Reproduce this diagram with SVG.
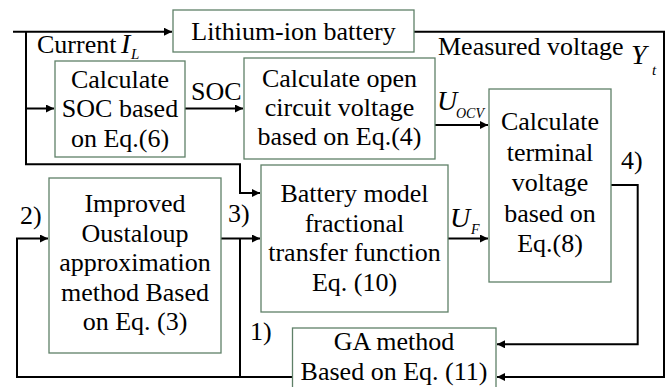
<svg xmlns="http://www.w3.org/2000/svg" width="665" height="387" viewBox="0 0 665 387">
<style>
.box{fill:#fff;stroke:#5f8068;stroke-width:1.3}
text{font-family:'Liberation Serif','DejaVu Serif',serif;fill:#000}
.t{font-size:26px;text-anchor:middle}
.l{font-size:26px}
.i{font-style:italic}
.big{font-size:28px}
.sub{font-size:15px}
.w{fill:none;stroke:#000;stroke-width:2}
</style>
<defs>
<marker id="ah" viewBox="0 0 10 10" refX="10" refY="5" markerWidth="4" markerHeight="4" orient="auto" markerUnits="strokeWidth">
<path d="M0,0 L10,5 L0,10 Z" fill="#000"/>
</marker>
</defs>
<rect width="665" height="387" fill="#fff"/>
<g id="connectors">
<path class="w" d="M13,31.7 H172" marker-end="url(#ah)"/>
<path class="w" d="M26,31.7 V164.3 H240 V193 H260" marker-end="url(#ah)"/>
<path class="w" d="M26,108.5 H54" marker-end="url(#ah)"/>
<path class="w" d="M185,108.5 H243" marker-end="url(#ah)"/>
<path class="w" d="M414,31.7 H664 V377 H497" marker-end="url(#ah)"/>
<path class="w" d="M435,125 H488" marker-end="url(#ah)"/>
<path class="w" d="M611,185 H637.7 V344.3 H497" marker-end="url(#ah)"/>
<path class="w" d="M448,238.5 H488" marker-end="url(#ah)"/>
<path class="w" d="M221,238.5 H260" marker-end="url(#ah)"/>
<path class="w" d="M292,377 H17 V238.5 H48" marker-end="url(#ah)"/>
<path class="w" d="M240,238.5 V377"/>
</g>
<g id="battery">
<rect class="box" x="173" y="10" width="241" height="42"/>
<text class="t" x="293.5" y="40">Lithium-ion battery</text>
</g>
<g id="soc">
<rect class="box" x="55" y="61" width="130" height="96"/>
<text class="t" x="120" y="88">Calculate</text>
<text class="t" x="120" y="117">SOC based</text>
<text class="t" x="120" y="146.5">on Eq.(6)</text>
</g>
<g id="ocv">
<rect class="box" x="244" y="58" width="191" height="101"/>
<text class="t" x="339.5" y="87">Calculate open</text>
<text class="t" x="339.5" y="116">circuit voltage</text>
<text class="t" x="339.5" y="145">based on Eq.(4)</text>
</g>
<g id="terminal">
<rect class="box" x="489" y="89" width="122" height="193"/>
<text class="t" x="550" y="130">Calculate</text>
<text class="t" x="550" y="160.5">terminal</text>
<text class="t" x="550" y="191">voltage</text>
<text class="t" x="550" y="221.5">based on</text>
<text class="t" x="550" y="252">Eq.(8)</text>
</g>
<g id="model">
<rect class="box" x="261" y="165" width="187" height="147"/>
<text class="t" x="354.5" y="202">Battery model</text>
<text class="t" x="354.5" y="231.5">fractional</text>
<text class="t" x="354.5" y="261">transfer function</text>
<text class="t" x="354.5" y="290.5">Eq. (10)</text>
</g>
<g id="oustaloup">
<rect class="box" x="49" y="178" width="172" height="175"/>
<text class="t" x="135" y="212">Improved</text>
<text class="t" x="135" y="241.5">Oustaloup</text>
<text class="t" x="135" y="271">approximation</text>
<text class="t" x="135" y="300.5">method Based</text>
<text class="t" x="135" y="330">on Eq. (3)</text>
</g>
<g id="ga">
<rect class="box" x="292.5" y="328" width="203.5" height="70"/>
<text class="t" x="394" y="350">GA method</text>
<text class="t" x="394" y="380">Based on Eq. (11)</text>
</g>
<g id="labels">
<text class="l" x="37" y="52.5">Current</text>
<text class="i big" x="121" y="53">I</text>
<text class="i sub" x="131" y="59">L</text>
<text class="l" x="191" y="100">SOC</text>
<text class="l" x="438" y="55">Measured voltage</text>
<text class="i big" x="631" y="64">Y</text>
<text class="i sub" x="652" y="75">t</text>
<text class="i big" x="437" y="110">U</text>
<text class="i" style="font-size:14px" x="456" y="118">OCV</text>
<text class="i big" x="450" y="227">U</text>
<text class="i" style="font-size:14px" x="471" y="234">F</text>
<text class="l" x="621" y="169">4)</text>
<text class="l" x="20" y="224">2)</text>
<text class="l" x="228" y="222">3)</text>
<text class="l" x="250" y="340">1)</text>
</g>
</svg>
